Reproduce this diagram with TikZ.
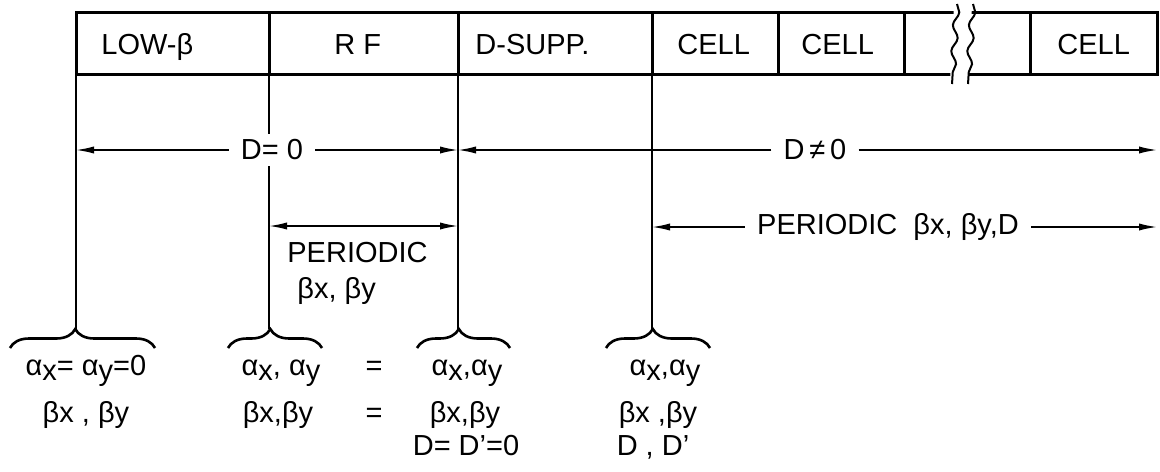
\documentclass[tikz,border=0pt]{standalone}
\usepackage{fontspec}
\setmainfont{Liberation Sans}
\usetikzlibrary{arrows.meta,decorations.pathreplacing,decorations.pathmorphing}
\newcommand{\lowsub}[1]{\raisebox{-0.35ex}{#1}}

\begin{document}
\begin{tikzpicture}[x=0.5pt, y=-0.5pt,
  every node/.style={font=\fontsize{14.5}{17}\selectfont, inner sep=2pt},
  barline/.style={line width=1.5pt},
  breakline/.style={line width=1pt, decorate, decoration={snake, amplitude=1.4pt, segment length=13pt}},
  stem/.style={line width=1.1pt},
  dimarrow/.style={line width=0.8pt, -{Latex[length=9pt,width=3.6pt]}},
  dimboth/.style={line width=0.8pt, {Latex[length=9pt,width=3.6pt]}-{Latex[length=9pt,width=3.6pt]}},
  onlabel/.style={fill=white, inner xsep=6pt, inner ysep=3pt},
  blocklbl/.style={anchor=base west},
  cond/.style={anchor=base},
  brc/.style={decorate, decoration={brace, amplitude=9.5pt, aspect=0.45}, line width=1.3pt}]
  \useasboundingbox (0,0) rectangle (1160,471);

  % lattice blocks
  \draw[barline] (76,12) rectangle (1157,74);
  \foreach \x in {269,458,652,778,904,1030}
    \draw[barline] (\x,12) -- (\x,74);
  \fill[white] (954,6) -- (972,6) -- (968,82) -- (950,82) -- cycle;
  \foreach \x in {955,971}
    \draw[breakline] (\x+2,4) -- (\x-3,84);

  \node[blocklbl] (lowb)  at (97,54)   {LOW-β};
  \node[blocklbl] (rf)    at (330,54)  {R F};
  \node[blocklbl] (dsupp) at (471,54)  {D-SUPP.};
  \node[blocklbl] (cellA) at (673,54)  {CELL};
  \node[blocklbl] (cellB) at (797,54)  {CELL};
  \node[blocklbl] (cellN) at (1053,54) {CELL};

  % stems down to the braces
  \coordinate (s1) at (76,74);  \coordinate (t1) at (76,329);
  \coordinate (s2) at (269,74); \coordinate (t2) at (269,329);
  \coordinate (s3) at (458,74); \coordinate (t3) at (458,329);
  \coordinate (s4) at (652,74); \coordinate (t4) at (652,329);
  \foreach \i in {1,...,4}
    \draw[stem] (s\i) -- (t\i);

  \draw[brc] (10,348) -- (155,348);
  \draw[brc] (228,348) -- (322,348);
  \draw[brc] (417,348) -- (510,348);
  \draw[brc] (606,348) -- (710,348);

  % dispersion ranges
  \coordinate (dzL) at (76,150);
  \coordinate (dzR) at (458,150);
  \coordinate (dnR) at (1157,150);
  \node[onlabel] (dzero) at (272,150) {D= 0};
  \draw[dimarrow] (dzero) -- (dzL);
  \draw[dimarrow] (dzero) -- (dzR);
  \node[onlabel] (dnonzero) at (815,150) {D\,≠\,0};
  \draw[dimarrow] (dnonzero) -- (dzR);
  \draw[dimarrow] (dnonzero) -- (dnR);

  % periodic ranges
  \coordinate (pL) at (269,226);
  \coordinate (pR) at (458,226);
  \draw[dimboth] (pL) -- (pR);
  \node[anchor=base west] (perA) at (283,262) {PERIODIC};
  \node[anchor=base west] (perB) at (293,298) {βx, βy};
  \coordinate (qL) at (652,227);
  \coordinate (qR) at (1157,227);
  \node[onlabel] (perC) at (888,227) {PERIODIC\ \ βx, βy,D};
  \draw[dimarrow] (perC) -- (qL);
  \draw[dimarrow] (perC) -- (qR);

  % matching conditions
  \node[cond] (a1) at (86,375)  {α\lowsub{x}= α\lowsub{y}=0};
  \node[cond] (a2) at (281,375) {α\lowsub{x}, α\lowsub{y}};
  \node[cond] (e1) at (374,375) {=};
  \node[cond] (a3) at (467,375) {α\lowsub{x},α\lowsub{y}};
  \node[cond] (a4) at (665,375) {α\lowsub{x},α\lowsub{y}};
  \node[cond] (b1) at (86,422)  {βx , βy};
  \node[cond] (b2) at (278,422) {βx,βy};
  \node[cond] (e2) at (374,422) {=};
  \node[cond] (b3) at (465,422) {βx,βy};
  \node[cond] (b4) at (658,422) {βx ,βy};
  \node[cond] (d3) at (466,455) {D= D'=0};
  \node[cond] (d4) at (653,455) {D , D'};
\end{tikzpicture}
\end{document}
